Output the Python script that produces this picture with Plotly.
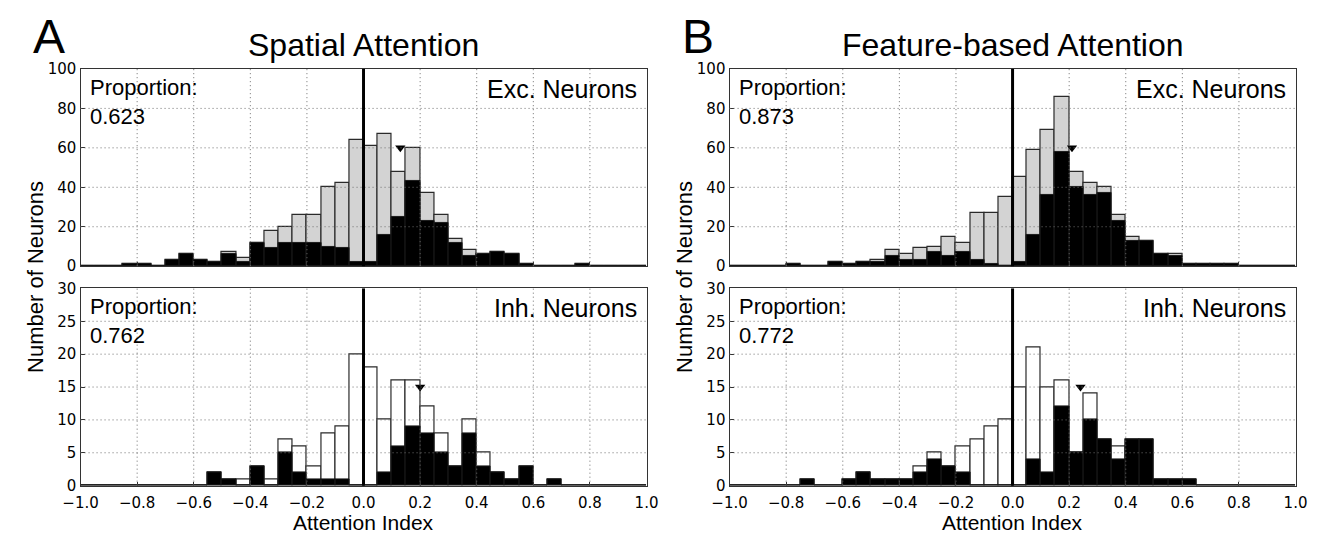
import plotly.graph_objects as go
from plotly.subplots import make_subplots

# ---------------- data ----------------
bin_left = [-1.00, -0.95, -0.90, -0.85, -0.80, -0.75, -0.70, -0.65, -0.60, -0.55,
            -0.50, -0.45, -0.40, -0.35, -0.30, -0.25, -0.20, -0.15, -0.10, -0.05,
            0.00, 0.05, 0.10, 0.15, 0.20, 0.25, 0.30, 0.35, 0.40, 0.45,
            0.50, 0.55, 0.60, 0.65, 0.70, 0.75, 0.80, 0.85, 0.90, 0.95]
bin_width = 0.05

# Spatial attention, excitatory neurons (total and significant)
spatial_exc_total = [0, 0, 0, 1, 1, 0, 3, 6, 3, 2, 7, 4, 12, 18, 20, 26, 26, 40, 42, 64,
                     61, 67, 48, 60, 37, 26, 14, 8, 6, 7, 6, 1, 0, 0, 0, 1, 0, 0, 0, 0]
spatial_exc_sig = [0, 0, 0, 1, 1, 0, 3, 6, 3, 2, 6, 2, 12, 9, 12, 12, 12, 10, 9, 2,
                   2, 16, 25, 43, 23, 22, 12, 5, 6, 7, 6, 1, 0, 0, 0, 1, 0, 0, 0, 0]
# Spatial attention, inhibitory neurons
spatial_inh_total = [0, 0, 0, 0, 0, 0, 0, 0, 0, 2, 1, 1, 3, 1, 7, 6, 3, 8, 9, 20,
                     18, 10, 16, 16, 12, 8, 3, 10, 5, 2, 1, 3, 0, 1, 0, 0, 0, 0, 0, 0]
spatial_inh_sig = [0, 0, 0, 0, 0, 0, 0, 0, 0, 2, 1, 0, 3, 0, 5, 2, 1, 1, 1, 0,
                   0, 2, 6, 9, 8, 5, 3, 8, 3, 2, 1, 3, 0, 1, 0, 0, 0, 0, 0, 0]
# Feature-based attention, excitatory neurons
feature_exc_total = [0, 0, 0, 0, 1, 0, 0, 2, 1, 2, 3, 8, 6, 9, 10, 15, 12, 27, 27, 35,
                     45, 59, 69, 86, 48, 42, 40, 26, 15, 13, 6, 6, 1, 1, 1, 1, 0, 0, 0, 0]
feature_exc_sig = [0, 0, 0, 0, 1, 0, 0, 2, 1, 2, 2, 5, 3, 3, 7, 5, 7, 3, 1, 0,
                   2, 16, 36, 58, 40, 36, 37, 23, 13, 13, 6, 5, 1, 1, 1, 1, 0, 0, 0, 0]
# Feature-based attention, inhibitory neurons
feature_inh_total = [0, 0, 0, 0, 0, 1, 0, 0, 1, 2, 1, 1, 1, 3, 5, 3, 6, 7, 9, 10,
                     15, 21, 15, 16, 5, 14, 7, 6, 7, 7, 1, 1, 1, 0, 0, 0, 0, 0, 0, 0]
feature_inh_sig = [0, 0, 0, 0, 0, 1, 0, 0, 1, 2, 1, 1, 1, 2, 4, 3, 2, 0, 0, 0,
                   0, 4, 2, 12, 5, 10, 7, 4, 7, 7, 1, 1, 1, 0, 0, 0, 0, 0, 0, 0]

# mean markers (x, y)
mean_x = {"spatial_exc": 0.13, "spatial_inh": 0.20, "feature_exc": 0.21, "feature_inh": 0.24}
mean_y = {"spatial_exc": 60, "spatial_inh": 15, "feature_exc": 60, "feature_inh": 15}

proportions = {"spatial_exc": "0.623", "spatial_inh": "0.762",
               "feature_exc": "0.873", "feature_inh": "0.772"}

panel_titles = ["Spatial Attention", "Feature-based Attention"]
panel_letters = ["A", "B"]
x_ticks = [-1.0, -0.8, -0.6, -0.4, -0.2, 0.0, 0.2, 0.4, 0.6, 0.8, 1.0]
y_ticks_exc = [0, 20, 40, 60, 80, 100]
y_ticks_inh = [0, 5, 10, 15, 20, 25, 30]

# ---------------- figure ----------------
W, H = 1331, 543
TXT = "Liberation Sans, Arial, sans-serif"
TICK = "DejaVu Sans, sans-serif"

fig = make_subplots(rows=2, cols=2)

centers = [b + bin_width / 2 for b in bin_left]

panels = [
    # key, row, col, total, sig, fill, label
    ("spatial_exc", 1, 1, spatial_exc_total, spatial_exc_sig, "#d3d3d3", "Exc. Neurons"),
    ("feature_exc", 1, 2, feature_exc_total, feature_exc_sig, "#d3d3d3", "Exc. Neurons"),
    ("spatial_inh", 2, 1, spatial_inh_total, spatial_inh_sig, "#ffffff", "Inh. Neurons"),
    ("feature_inh", 2, 2, feature_inh_total, feature_inh_sig, "#ffffff", "Inh. Neurons"),
]

for key, r, c, tot, sig, fill, lab in panels:
    fig.add_trace(go.Bar(x=centers, y=tot, width=bin_width, marker=dict(color=fill, line=dict(color="#2a2a2a", width=1.2)),
                         showlegend=False, hoverinfo="skip"), row=r, col=c)
    fig.add_trace(go.Bar(x=centers, y=sig, width=bin_width, marker=dict(color="#000000", line=dict(color="#1a1a1a", width=1.0)),
                         showlegend=False, hoverinfo="skip"), row=r, col=c)
    fig.add_trace(go.Scatter(x=[mean_x[key]], y=[mean_y[key]], mode="markers",
                             marker=dict(symbol="triangle-down", size=9, color="black"),
                             showlegend=False, hoverinfo="skip"), row=r, col=c)

fig.update_layout(barmode="overlay", bargap=0)

xA = [64 / W, 643 / W]
xB = [728 / W, 1307 / W]
yU = [1 - 266 / H, 1 - 62 / H]
yL = [1 - 493 / H, 1 - 289 / H]

axis_common = dict(showline=True, mirror=True, linecolor="#333333", linewidth=1.3,
                   showgrid=False, zeroline=False, ticks="inside", ticklen=4,
                   tickcolor="#333333", tickfont=dict(family=TICK, size=15, color="black"))

# axis mapping from make_subplots: (1,1)->x/y, (1,2)->x2/y2, (2,1)->x3/y3, (2,2)->x4/y4
layout_axes = {
    "xaxis": dict(domain=xA, range=[-1, 1], tickvals=x_ticks, showticklabels=False, anchor="y", **axis_common),
    "xaxis2": dict(domain=xB, range=[-1, 1], tickvals=x_ticks, showticklabels=False, anchor="y2", **axis_common),
    "xaxis3": dict(domain=xA, range=[-1, 1], tickvals=x_ticks, tickformat=".1f", anchor="y3",
                   ticklabelstandoff=3, **axis_common),
    "xaxis4": dict(domain=xB, range=[-1, 1], tickvals=x_ticks, tickformat=".1f", anchor="y4",
                   ticklabelstandoff=3, **axis_common),
    "yaxis": dict(domain=yU, range=[0, 100], tickvals=y_ticks_exc, anchor="x", **axis_common),
    "yaxis2": dict(domain=yU, range=[0, 100], tickvals=y_ticks_exc, anchor="x2", **axis_common),
    "yaxis3": dict(domain=yL, range=[0, 30], tickvals=y_ticks_inh, anchor="x3", **axis_common),
    "yaxis4": dict(domain=yL, range=[0, 30], tickvals=y_ticks_inh, anchor="x4", **axis_common),
}
fig.update_layout(**layout_axes)

# gridlines (dotted, drawn above bars like the original) and zero reference line
shapes = []
axis_pairs = [("x", "y", y_ticks_exc), ("x2", "y2", y_ticks_exc), ("x3", "y3", y_ticks_inh), ("x4", "y4", y_ticks_inh)]
grid_line = dict(color="#6f6f6f", width=1, dash="1px,3px")
for xr, yr, yt in axis_pairs:
    for xv in x_ticks[1:-1]:
        if xv == 0.0:
            continue
        shapes.append(dict(type="line", xref=xr, yref=yr + " domain", x0=xv, x1=xv, y0=0, y1=1,
                           line=grid_line, layer="above"))
    for yv in yt[1:-1]:
        shapes.append(dict(type="line", xref=xr + " domain", yref=yr, x0=0, x1=1, y0=yv, y1=yv,
                           line=grid_line, layer="above"))
    shapes.append(dict(type="line", xref=xr, yref=yr + " domain", x0=0, x1=0, y0=0, y1=1,
                       line=dict(color="black", width=3), layer="above"))
fig.update_layout(shapes=shapes)

annotations = []
axis_for = {"spatial_exc": ("x", "y"), "feature_exc": ("x2", "y2"),
            "spatial_inh": ("x3", "y3"), "feature_inh": ("x4", "y4")}
for key, r, c, tot, sig, fill, lab in panels:
    xr, yr = axis_for[key]
    annotations.append(dict(text="Proportion:<br>" + proportions[key], xref=xr + " domain", yref=yr + " domain",
                            x=0, y=1, xanchor="left", yanchor="top", xshift=7, yshift=-4, align="left",
                            showarrow=False, font=dict(family=TXT, size=22, color="black")))
    annotations.append(dict(text=lab, xref=xr + " domain", yref=yr + " domain",
                            x=1, y=1, xanchor="right", yanchor="top", xshift=-8, yshift=-4, align="right",
                            showarrow=False, font=dict(family=TXT, size=25, color="black")))

for i, (xd, title, letter) in enumerate(zip([xA, xB], panel_titles, panel_letters)):
    cx = (xd[0] + xd[1]) / 2
    annotations.append(dict(text=title, xref="paper", yref="paper", x=cx, y=1 - 37 / H,
                            xanchor="center", yanchor="middle", showarrow=False,
                            font=dict(family=TXT, size=32, color="black")))
    annotations.append(dict(text=letter, xref="paper", yref="paper", x=xd[0] - 32 / W, y=1 - 28 / H,
                            xanchor="center", yanchor="middle", showarrow=False,
                            font=dict(family=TXT, size=48, color="black")))
    annotations.append(dict(text="Attention Index", xref="paper", yref="paper", x=cx, y=1 - 531 / H,
                            xanchor="center", yanchor="middle", showarrow=False,
                            font=dict(family=TXT, size=21, color="black")))
    annotations.append(dict(text="Number of Neurons", xref="paper", yref="paper", x=xd[0] - 46 / W,
                            y=(yU[1] + yL[0]) / 2, xanchor="center", yanchor="middle", textangle=-90,
                            showarrow=False, font=dict(family=TXT, size=22, color="black")))
fig.update_layout(annotations=annotations)

fig.update_layout(width=W, height=H, margin=dict(l=0, r=0, t=0, b=0),
                  paper_bgcolor="white", plot_bgcolor="white")

fig.write_html("out.html")
